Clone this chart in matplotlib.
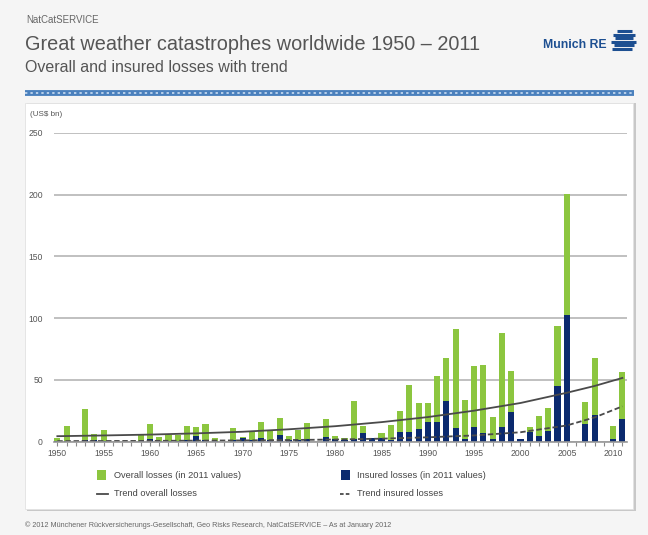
import matplotlib
matplotlib.use("Agg")
import matplotlib.pyplot as plt
import numpy as np
from matplotlib.lines import Line2D
from matplotlib.patches import Rectangle

plt.rcParams['font.family'] = ['Liberation Sans', 'DejaVu Sans']

years = list(range(1950, 2012))
overall_losses = [2.6, 12.5, 0, 26.4, 6.2, 9.0, 0, 0, 0, 5.0,
                  14.0, 4.0, 5.5, 5.3, 12.3, 11.6, 14.0, 3.0, 0, 10.8,
                  3.4, 8.3, 15.7, 9.4, 19.3, 4.8, 9.7, 15.2, 0, 18.4,
                  4.5, 3.0, 33.0, 12.7, 3.0, 6.7, 13.0, 24.5, 45.5, 31.6,
                  31.0, 53.4, 67.3, 90.8, 34.0, 61.3, 62.0, 20.0, 87.8, 57.5,
                  2.2, 12.0, 21.0, 27.0, 93.6, 200.5, 0, 31.8, 67.3, 0,
                  12.7, 56.7]
insured_losses = [0.5, 0.5, 0, 1.0, 1.5, 0.8, 0, 0, 0, 0.5,
                  1.8, 0.5, 0.5, 0.5, 1.0, 4.5, 1.0, 0.5, 0, 1.0,
                  3.0, 1.0, 3.0, 1.5, 5.0, 1.0, 1.5, 1.8, 0, 3.7,
                  2.0, 1.5, 2.0, 6.7, 2.6, 3.0, 1.0, 8.0, 7.5, 10.0,
                  16.0, 16.0, 33.0, 11.3, 2.0, 12.0, 6.7, 2.0, 12.0, 24.2,
                  1.8, 8.0, 4.8, 8.6, 45.2, 102.3, 0, 14.3, 21.7, 0,
                  2.0, 18.4]

trend_years = [1950, 1955, 1960, 1965, 1970, 1975, 1980, 1985, 1990, 1995, 2000, 2005, 2008, 2011]
trend_overall = [4.3, 4.9, 5.6, 6.6, 7.9, 9.9, 12.4, 15.7, 19.8, 25.0, 31.2, 39.5, 45.0, 51.5]
trend_insured = [0.3, 0.4, 0.5, 0.7, 0.9, 1.2, 1.6, 2.3, 3.4, 4.9, 7.5, 13.0, 19.5, 28.5]

y_ticks = [0, 50, 100, 150, 200, 250]
x_tick_labels = list(range(1950, 2011, 5))

W, H = 648, 535
GREEN = '#8cc63f'
NAVY = '#0b2a6e'
TREND = '#4a4a4a'

fig = plt.figure(figsize=(W / 100, H / 100), dpi=100)
fig.patch.set_facecolor('#f5f5f5')

def fx(x):
    return x / W

def fy(y):
    return 1 - y / H

# white panel
fig.patches.append(Rectangle((fx(27), fy(511)), fx(636) - fx(27), fy(103) - fy(511),
                             transform=fig.transFigure, facecolor='#c8c8c8', edgecolor='none', zorder=-3))
fig.patches.append(Rectangle((fx(25), fy(509)), fx(633) - fx(25), fy(103) - fy(509),
                             transform=fig.transFigure, facecolor='white', edgecolor='#e2e2e2',
                             linewidth=0.6, zorder=-2))

# header texts
fig.text(fx(26), fy(20), 'NatCatSERVICE', fontsize=7, color='#666666', va='center', ha='left')
fig.text(fx(25), fy(44), 'Great weather catastrophes worldwide 1950 \u2013 2011', fontsize=14.3,
         color='#555555', va='center', ha='left')
fig.text(fx(25), fy(67), 'Overall and insured losses with trend', fontsize=11.5,
         color='#555555', va='center', ha='left')
fig.text(fx(543), fy(45), 'Munich RE', fontsize=8.8, fontweight='bold', color='#1d4f91',
         va='center', ha='left')
# logo stripes
for i, (x0, x1) in enumerate([(617, 632), (613, 635), (615, 633), (611, 636), (614, 634), (612, 632)]):
    yy = 31 + i * 3.5
    fig.lines.append(Line2D([fx(x0), fx(x1)], [fy(yy), fy(yy)], transform=fig.transFigure,
                            color='#1d4f91', linewidth=2.2, solid_capstyle='butt'))

# blue band
fig.lines.append(Line2D([fx(25), fx(634)], [fy(93), fy(93)], transform=fig.transFigure,
                        color='#4a80bd', linewidth=4.2, solid_capstyle='butt'))
fig.lines.append(Line2D([fx(25), fx(634)], [fy(93), fy(93)], transform=fig.transFigure,
                        color='#b9d0ea', linewidth=1.4, linestyle=(0, (1.2, 1.6))))

# axes
left, right, top, bottom = 54, 627, 133, 441.5
ax = fig.add_axes([fx(left), fy(bottom), fx(right) - fx(left), fy(top) - fy(bottom)])
ax.set_facecolor('none')

x = np.array(years)
ax.bar(x, overall_losses, width=0.66, color=GREEN, zorder=3)
ax.bar(x, insured_losses, width=0.66, color=NAVY, zorder=4)
ax.plot(trend_years, trend_overall, color=TREND, linewidth=1.3, zorder=5)
ax.plot(trend_years, trend_insured, color=TREND, linewidth=1.3, linestyle=(0, (3, 1.5)), zorder=5)

ax.set_xlim(1949.64, 2011.5)
ax.set_ylim(0, 250)
ax.set_yticks(y_ticks)
ax.set_yticklabels([str(v) for v in y_ticks], fontsize=6.2, color='#555555')
ax.yaxis.grid(True, color='#b5b5b5', linewidth=1.2, zorder=1)
ax.set_axisbelow(True)
ax.tick_params(axis='y', length=0, pad=8)

ax.set_xticks(years, minor=True)
ax.set_xticks(x_tick_labels)
ax.set_xticklabels([str(v) for v in x_tick_labels], fontsize=6.2, color='#555555')
ax.tick_params(axis='x', which='both', length=3, color='#8a8a8a', width=0.8, pad=2.5)

for s in ['top', 'right', 'left']:
    ax.spines[s].set_visible(False)
ax.spines['bottom'].set_color('#999999')
ax.spines['bottom'].set_linewidth(1.2)
ax.spines['bottom'].set_zorder(6)

fig.text(fx(30), fy(114), '(US$ bn)', fontsize=5.8, color='#555555', va='center', ha='left')

# legend
fig.patches.append(Rectangle((fx(97), fy(480)), fx(106) - fx(97), fy(470) - fy(480),
                             transform=fig.transFigure, facecolor=GREEN, edgecolor='none'))
fig.text(fx(114), fy(475), 'Overall losses (in 2011 values)', fontsize=6.7, color='#444444',
         va='center', ha='left')
fig.patches.append(Rectangle((fx(341), fy(480)), fx(350) - fx(341), fy(470) - fy(480),
                             transform=fig.transFigure, facecolor=NAVY, edgecolor='none'))
fig.text(fx(357), fy(475), 'Insured losses (in 2011 values)', fontsize=6.7, color='#444444',
         va='center', ha='left')
fig.lines.append(Line2D([fx(97), fx(108)], [fy(494), fy(494)], transform=fig.transFigure,
                        color=TREND, linewidth=1.3))
fig.text(fx(114), fy(494), 'Trend overall losses', fontsize=6.7, color='#444444', va='center', ha='left')
fig.lines.append(Line2D([fx(340), fx(351)], [fy(494), fy(494)], transform=fig.transFigure,
                        color=TREND, linewidth=1.3, linestyle=(0, (2, 1.2))))
fig.text(fx(357), fy(494), 'Trend insured losses', fontsize=6.7, color='#444444', va='center', ha='left')

fig.text(fx(25), fy(525), '\u00a9 2012 M\u00fcnchener R\u00fcckversicherungs-Gesellschaft, Geo Risks Research, '
         'NatCatSERVICE \u2013 As at January 2012', fontsize=5.2, color='#666666', va='center', ha='left')

fig.savefig('out.png', dpi=100, facecolor=fig.get_facecolor())
